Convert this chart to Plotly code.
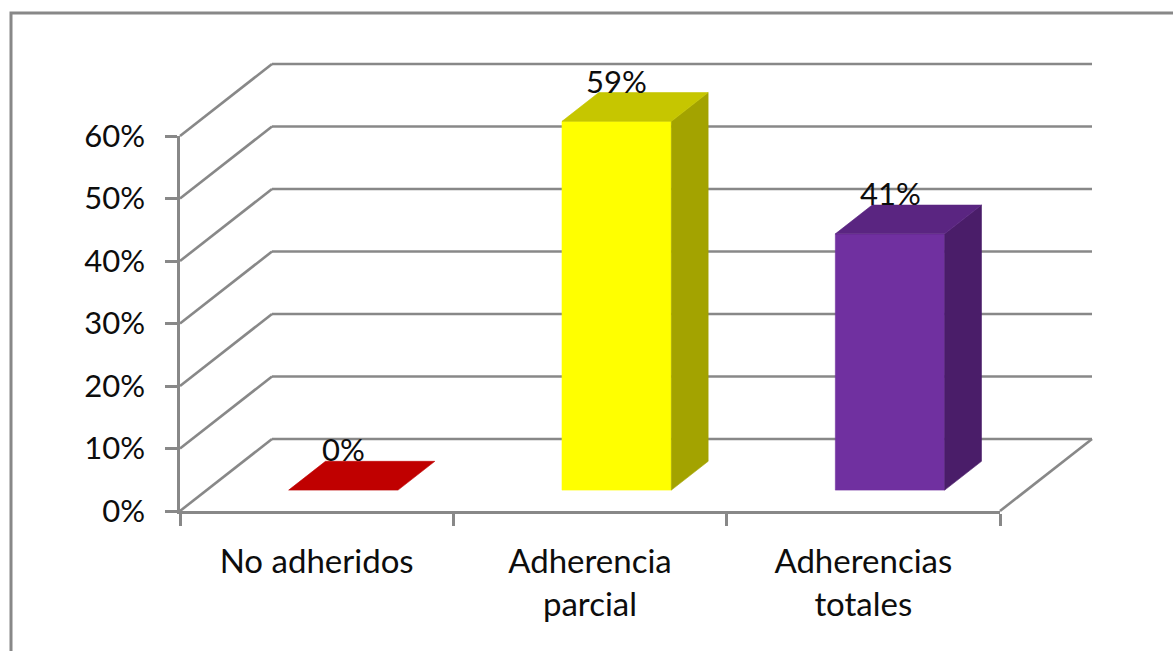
import plotly.graph_objects as go

# ---- data -------------------------------------------------------------
categories = ["No adheridos", "Adherencia<br>parcial", "Adherencias<br>totales"]
values = [0, 59, 41]
front_colors = ["#C00000", "#FFFF00", "#7030A0"]
top_colors = ["#C00000", "#C6C600", "#5A2581"]
side_colors = ["#8C0000", "#A3A300", "#4A1D69"]
y_ticks = [0, 10, 20, 30, 40, 50, 60]
y_tick_labels = [f"{t}%" for t in y_ticks]

# ---- layout geometry ----------------------------------------------------
W, H = 1173, 651
X0_PX, X3_PX = 180, 1000          # front edge of the category axis (0 .. 3)
Y0_PX, YTOP_PX = 511, 136         # front edge of the value axis (0 .. 60)
PX_PER_CAT = (X3_PX - X0_PX) / 3
PX_PER_PCT = (Y0_PX - YTOP_PX) / 60
DX = 92 / PX_PER_CAT              # depth of the box, in category units
DY = 72 / PX_PER_PCT              # depth of the box, in percent units
BAR_W = 0.40
D_FRONT, D_BACK = 0.29, 0.69      # bar depth span inside the box
GRID = "#888888"
LINE_W = 2.6
FONT = dict(family="Lato, 'Open Sans', sans-serif", size=31, color="#0d0d0d")
CAT_FONT = dict(family="Lato, 'Open Sans', sans-serif", size=33, color="#0d0d0d")

x_range = [-X0_PX / PX_PER_CAT, (W - X0_PX) / PX_PER_CAT]
y_range = [(Y0_PX - H) / PX_PER_PCT, Y0_PX / PX_PER_PCT]

fig = go.Figure()

# back wall grid lines and left wall diagonals
bx, by, dxs, dys = [], [], [], []
for t in y_ticks:
    bx += [DX, 3 + DX, None]
    by += [t + DY, t + DY, None]
    dxs += [0, DX, None]
    dys += [t, t + DY, None]
# right edge of the floor
dxs += [3, 3 + DX, None]
dys += [0, DY, None]
for xs, ys in ((bx, by), (dxs, dys)):
    fig.add_trace(go.Scatter(x=xs, y=ys, mode="lines",
                             line=dict(color=GRID, width=LINE_W),
                             hoverinfo="skip", showlegend=False))

# 3D bars: front, side and top faces
for i, v in enumerate(values):
    x0 = i + 0.5 - BAR_W / 2
    x1 = i + 0.5 + BAR_W / 2
    fx, fy = D_FRONT * DX, D_FRONT * DY
    kx, ky = D_BACK * DX, D_BACK * DY
    faces = []
    if v > 0:
        faces.append(([x0 + fx, x1 + fx, x1 + fx, x0 + fx, x0 + fx],
                      [fy, fy, v + fy, v + fy, fy], front_colors[i]))
        faces.append(([x1 + fx, x1 + kx, x1 + kx, x1 + fx, x1 + fx],
                      [fy, ky, v + ky, v + fy, fy], side_colors[i]))
    faces.append(([x0 + fx, x1 + fx, x1 + kx, x0 + kx, x0 + fx],
                  [v + fy, v + fy, v + ky, v + ky, v + fy], top_colors[i]))
    for xs, ys, c in faces:
        fig.add_trace(go.Scatter(x=xs, y=ys, mode="lines", fill="toself",
                                 fillcolor=c, line=dict(color=c, width=0.6),
                                 hoverinfo="skip", showlegend=False))
    fig.add_annotation(x=i + 0.5 + D_FRONT * DX, y=v + D_BACK * DY,
                       xref="x", yref="y", text=f"{v}%", showarrow=False,
                       yanchor="bottom", yshift=-9, font=FONT)

# front axes (value axis and category axis) on their own subplot
fig.add_trace(go.Scatter(x=[None], y=[None], xaxis="x2", yaxis="y2",
                         hoverinfo="skip", showlegend=False))

fig.update_layout(
    width=W, height=H, autosize=False,
    margin=dict(l=0, r=0, t=0, b=0, pad=0, autoexpand=False),
    paper_bgcolor="white", plot_bgcolor="rgba(0,0,0,0)",
    xaxis=dict(range=x_range, domain=[0, 1], visible=False,
               automargin=False, fixedrange=True),
    yaxis=dict(range=y_range, domain=[0, 1], visible=False,
               automargin=False, fixedrange=True),
    xaxis2=dict(domain=[X0_PX / W, X3_PX / W], range=[0, 3], anchor="y2",
                automargin=False,
                showline=True, linecolor=GRID, linewidth=LINE_W,
                showgrid=False, zeroline=False,
                tickmode="array", tickvals=[0.5, 1.5, 2.5], ticktext=categories,
                ticks="", tickfont=CAT_FONT, ticklabelstandoff=20,
                minor=dict(tickmode="array", tickvals=[0, 1, 2, 3],
                           ticks="outside", ticklen=12, tickwidth=LINE_W,
                           tickcolor=GRID, showgrid=False),
                fixedrange=True),
    yaxis2=dict(domain=[(H - Y0_PX) / H, (H - YTOP_PX) / H], range=[0, 60],
                anchor="x2", automargin=False,
                showline=True, linecolor=GRID, linewidth=LINE_W,
                showgrid=False, zeroline=False,
                tickmode="array", tickvals=y_ticks, ticktext=y_tick_labels,
                ticks="outside", ticklen=12, tickwidth=LINE_W, tickcolor=GRID,
                tickfont=FONT, ticklabelstandoff=14, fixedrange=True),
    shapes=[dict(type="rect", xref="paper", yref="paper",
                 x0=11 / W, x1=1.02, y0=-0.05, y1=(H - 13) / H,
                 line=dict(color=GRID, width=3), layer="below")],
    showlegend=False,
)

fig.write_html("out.html")
